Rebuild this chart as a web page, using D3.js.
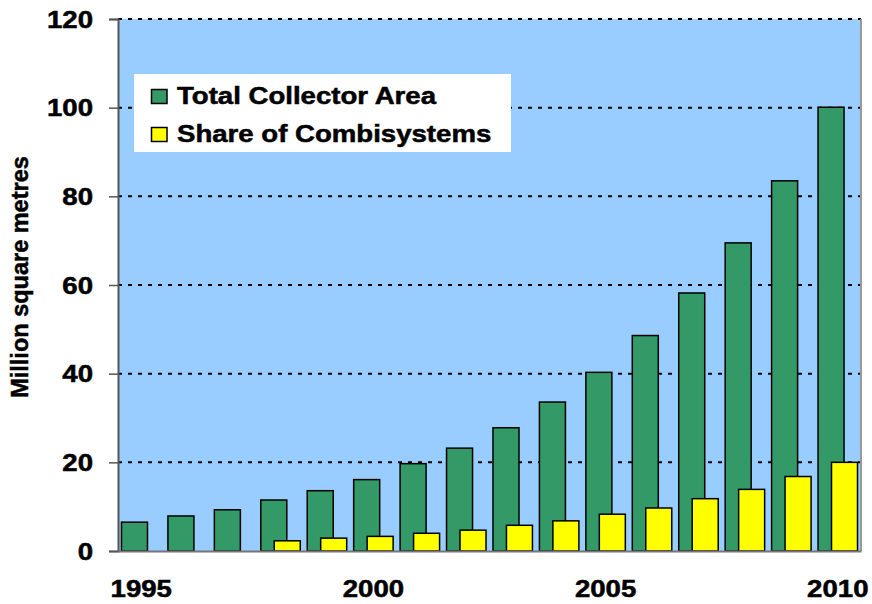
<!DOCTYPE html>
<html><head><meta charset="utf-8">
<script src="https://cdn.jsdelivr.net/npm/d3@7"></script>
<style>body{margin:0;background:#fff}svg{display:block}text{font-family:"Liberation Sans",Arial,sans-serif;font-weight:bold;stroke:#000;stroke-width:0.5px}</style>
</head><body>
<svg id="c" width="872" height="604"></svg>
<script>
const years = ["1995","1996","1997","1998","1999","2000","2001","2002","2003","2004","2005","2006","2007","2008","2009","2010"];
const totalArea = [6.5,7.9,9.3,11.5,13.6,16.1,19.7,23.2,27.8,33.6,40.3,48.6,58.2,69.5,83.5,100.1];
const combiShare = [null,null,null,2.3,2.9,3.3,4.0,4.7,5.8,6.8,8.3,9.7,11.8,13.9,16.8,20.0];
const yTicks = [0,20,40,60,80,100,120];
const xLabels = ["1995","2000","2005","2010"];
const seriesNames = ["Total Collector Area","Share of Combisystems"];

const SX = 1.2; // horizontal stretch of the original's lettering
const svg = d3.select("#c");
const L=118, R=861, T=19, B=551;
const x = d3.scaleBand().domain(years).range([L,R]).paddingInner(0).paddingOuter(0);
const y = d3.scaleLinear().domain([0,120]).range([B,T]);

svg.append("rect").attr("x",L).attr("y",T).attr("width",R-L).attr("height",B-T).attr("fill","#99CCFF");

// gridlines
svg.append("g").selectAll("line").data(yTicks.filter(d=>d>0)).join("line")
  .attr("x1",L).attr("x2",R).attr("y1",d=>y(d)).attr("y2",d=>y(d))
  .attr("stroke","#000").attr("stroke-width",2).attr("stroke-dasharray","4,6");

const bw = x.bandwidth();
const w = bw*0.56, off = bw*0.29;
const g0 = (bw - (w+off))/2;

svg.append("g").selectAll("rect").data(years.map((d,i)=>({d,v:totalArea[i]}))).join("rect")
  .attr("x",d=>x(d.d)+g0).attr("width",w).attr("y",d=>y(d.v)).attr("height",d=>B-y(d.v))
  .attr("fill","#339966").attr("stroke","#000").attr("stroke-width",1.5);

svg.append("g").selectAll("rect").data(years.map((d,i)=>({d,v:combiShare[i]})).filter(d=>d.v!=null)).join("rect")
  .attr("x",d=>x(d.d)+g0+off).attr("width",w).attr("y",d=>y(d.v)).attr("height",d=>B-y(d.v))
  .attr("fill","#FFFF00").attr("stroke","#000").attr("stroke-width",1.5);

// right border
svg.append("line").attr("x1",R).attr("x2",R).attr("y1",T).attr("y2",B).attr("stroke","#999").attr("stroke-width",2);

// y axis
const ya = d3.axisLeft(y).tickValues(yTicks).tickSize(9).tickFormat(d3.format("d"));
const yg = svg.append("g").attr("transform",`translate(${L},0)`).call(ya);
yg.select(".domain").attr("stroke","#555").attr("stroke-width",2);
yg.selectAll(".tick line").attr("stroke","#555").attr("stroke-width",1.5);
yg.selectAll(".tick text").attr("font-size",23).attr("fill","#000").attr("dy","0.36em")
  .attr("x",-25/SX).attr("transform",`scale(${SX},1)`);

// x axis
const xa = d3.axisBottom(x).tickValues(xLabels).tickSize(0);
const xg = svg.append("g").attr("transform",`translate(0,${B})`).call(xa);
xg.select(".domain").attr("stroke","#777").attr("stroke-width",2);
xg.selectAll(".tick text").attr("font-size",23).attr("fill","#000").attr("dy",0).attr("y",46)
  .attr("transform",`scale(${SX},1)`);

// y title
svg.append("text").attr("transform","translate(28,277) rotate(-90)").attr("text-anchor","middle")
  .attr("font-size",23.5).text("Million square metres");

// legend
const lg = svg.append("g");
lg.append("rect").attr("x",134).attr("y",74).attr("width",377).attr("height",78).attr("fill","#fff");
const colors=["#339966","#FFFF00"];
seriesNames.forEach((n,i)=>{
  const base = 103.5 + i*38;
  lg.append("rect").attr("x",151.5).attr("y",base-14).attr("width",15.5).attr("height",14)
    .attr("fill",colors[i]).attr("stroke","#000").attr("stroke-width",1.5);
  lg.append("text").attr("transform",`translate(177,${base}) scale(${SX},1)`).attr("font-size",23).text(n);
});
</script>
</body></html>
